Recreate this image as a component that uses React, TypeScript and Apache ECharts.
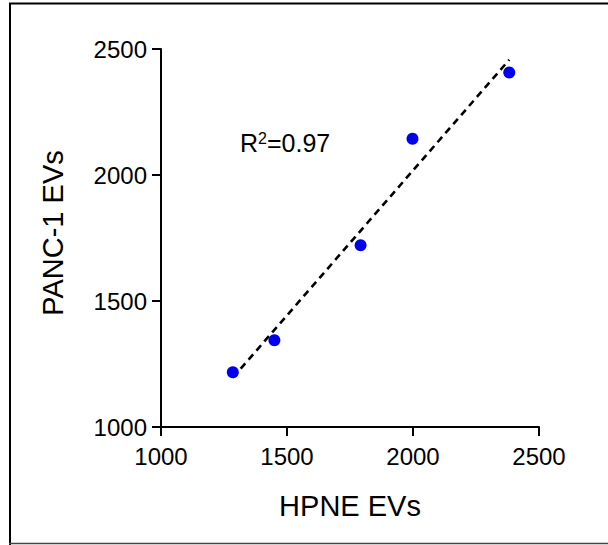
import React, { useEffect, useRef } from "react";
import * as echarts from "echarts";

// EV counts per sample: HPNE (x) against PANC-1 (y)
const hpneEVs = [1285, 1450, 1792, 1998, 2382];
const panc1EVs = [1217, 1344, 1721, 2144, 2407];
const axisMin = 1000;
const axisMax = 2500;
const axisStep = 500;
const rSquaredText = "0.97";

const FONT = 'Arial, "Liberation Sans", Helvetica, sans-serif';

// Least-squares fit through the points
function linearFit(xs: number[], ys: number[]) {
  const n = xs.length;
  const mx = xs.reduce((a, b) => a + b, 0) / n;
  const my = ys.reduce((a, b) => a + b, 0) / n;
  let sxy = 0;
  let sxx = 0;
  for (let i = 0; i < n; i++) {
    sxy += (xs[i] - mx) * (ys[i] - my);
    sxx += (xs[i] - mx) * (xs[i] - mx);
  }
  const slope = sxy / sxx;
  return { slope, intercept: my - slope * mx };
}

export default function App() {
  const ref = useRef<HTMLDivElement>(null);

  useEffect(() => {
    if (!ref.current) return;
    const chart = echarts.init(ref.current, undefined, { renderer: "svg" });

    const { slope, intercept } = linearFit(hpneEVs, panc1EVs);
    const x0 = Math.min(...hpneEVs);
    const x1 = Math.max(...hpneEVs);
    const fitLine = [
      [x0, slope * x0 + intercept],
      [x1, slope * x1 + intercept],
    ];
    const points = hpneEVs.map((x, i) => [x, panc1EVs[i]]);

    const axisCommon = {
      type: "value" as const,
      min: axisMin,
      max: axisMax,
      interval: axisStep,
      nameLocation: "middle" as const,
      axisLine: { show: true, lineStyle: { color: "#000", width: 2 } },
      axisTick: { show: true, inside: false, length: 9, lineStyle: { color: "#000", width: 2 } },
      splitLine: { show: false },
      axisLabel: {
        color: "#000",
        fontSize: 24,
        fontFamily: FONT,
        lineHeight: 24,
        formatter: (v: number) => String(v),
      },
      nameTextStyle: { color: "#000", fontSize: 29, fontFamily: FONT, lineHeight: 29 },
    };

    chart.setOption({
      animation: false,
      backgroundColor: "#fff",
      grid: { left: 161, right: 69, top: 49, bottom: 118, containLabel: false },
      xAxis: {
        ...axisCommon,
        name: "HPNE EVs",
        nameGap: 64,
        axisLabel: { ...axisCommon.axisLabel, margin: 17 },
      },
      yAxis: {
        ...axisCommon,
        name: "PANC-1 EVs",
        nameGap: 94,
        nameTextStyle: { ...axisCommon.nameTextStyle, padding: [0, 0, 0, 10] },
        axisLabel: { ...axisCommon.axisLabel, margin: 14 },
      },
      series: [
        {
          type: "line",
          data: fitLine,
          symbol: "none",
          silent: true,
          lineStyle: { color: "#000", width: 2.6, type: [7, 5] },
          z: 2,
        },
        {
          type: "scatter",
          data: points,
          symbol: "circle",
          symbolSize: 12,
          itemStyle: { color: "#0000ee", opacity: 1 },
          z: 3,
        },
      ],
      graphic: [
        {
          type: "text",
          x: 240,
          y: 130,
          style: {
            text: `{r|R}{s|2}{r|=${rSquaredText}}`,
            verticalAlign: "top",
            rich: {
              r: { fontSize: 25, fontFamily: FONT, fill: "#000", lineHeight: 25, verticalAlign: "bottom" },
              s: { fontSize: 16, fontFamily: FONT, fill: "#000", lineHeight: 15, verticalAlign: "top" },
            },
          },
        },
        // frame around the figure
        { type: "line", shape: { x1: 9, y1: 3.5, x2: 608, y2: 3.5 }, style: { stroke: "#000", lineWidth: 2 } },
        { type: "line", shape: { x1: 10, y1: 3, x2: 10, y2: 545 }, style: { stroke: "#000", lineWidth: 2 } },
        { type: "line", shape: { x1: 9, y1: 543.5, x2: 608, y2: 543.5 }, style: { stroke: "#444", lineWidth: 1.5 } },
      ],
    });

    return () => chart.dispose();
  }, []);

  return (
    <div
      ref={ref}
      style={{ position: "fixed", left: 0, top: 0, width: 608, height: 545, background: "#fff" }}
    />
  );
}
